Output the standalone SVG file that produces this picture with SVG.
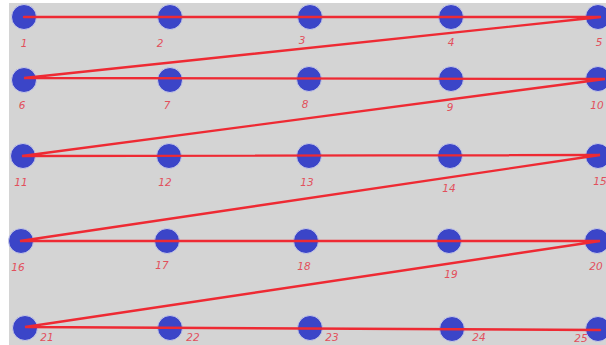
<svg xmlns="http://www.w3.org/2000/svg" width="606" height="345" viewBox="0 0 606 345">
<style>
.n{fill:#3b45c8;stroke:#c9cbe6;stroke-width:1}
.c{stroke:#ee2a33;stroke-width:2.4;fill:none;stroke-linecap:round}
.t{font-family:"DejaVu Sans",sans-serif;font-style:italic;font-size:10.5px;fill:#e2505c;text-anchor:middle}
</style>
<rect x="0" y="0" width="606" height="345" fill="#ffffff"/>
<rect x="9" y="3" width="597" height="342" fill="#d4d4d4"/>
<g id="n1"><circle class="n" cx="24" cy="17" r="12.5"/><text class="t" x="24" y="47">1</text></g>
<g id="n2"><circle class="n" cx="170" cy="17" r="12.5"/><text class="t" x="160" y="47">2</text></g>
<g id="n3"><circle class="n" cx="310" cy="17" r="12.5"/><text class="t" x="302" y="44">3</text></g>
<g id="n4"><circle class="n" cx="451" cy="17" r="12.5"/><text class="t" x="451" y="46">4</text></g>
<g id="n5"><circle class="n" cx="598" cy="17" r="12.5"/><text class="t" x="599" y="46">5</text></g>
<g id="n6"><circle class="n" cx="24" cy="80" r="12.5"/><text class="t" x="22" y="109">6</text></g>
<g id="n7"><circle class="n" cx="170" cy="80" r="12.5"/><text class="t" x="167" y="109">7</text></g>
<g id="n8"><circle class="n" cx="309" cy="79" r="12.5"/><text class="t" x="305" y="108">8</text></g>
<g id="n9"><circle class="n" cx="451" cy="79" r="12.5"/><text class="t" x="450" y="111">9</text></g>
<g id="n10"><circle class="n" cx="598" cy="79" r="12.5"/><text class="t" x="597" y="109">10</text></g>
<g id="n11"><circle class="n" cx="23" cy="156" r="12.5"/><text class="t" x="21" y="186">11</text></g>
<g id="n12"><circle class="n" cx="169" cy="156" r="12.5"/><text class="t" x="165" y="186">12</text></g>
<g id="n13"><circle class="n" cx="309" cy="156" r="12.5"/><text class="t" x="307" y="186">13</text></g>
<g id="n14"><circle class="n" cx="450" cy="156" r="12.5"/><text class="t" x="449" y="192">14</text></g>
<g id="n15"><circle class="n" cx="598" cy="156" r="12.5"/><text class="t" x="600" y="185">15</text></g>
<g id="n16"><circle class="n" cx="21" cy="241" r="12.5"/><text class="t" x="18" y="271">16</text></g>
<g id="n17"><circle class="n" cx="167" cy="241" r="12.5"/><text class="t" x="162" y="269">17</text></g>
<g id="n18"><circle class="n" cx="306" cy="241" r="12.5"/><text class="t" x="304" y="270">18</text></g>
<g id="n19"><circle class="n" cx="449" cy="241" r="12.5"/><text class="t" x="451" y="278">19</text></g>
<g id="n20"><circle class="n" cx="597" cy="241" r="12.5"/><text class="t" x="596" y="270">20</text></g>
<g id="n21"><circle class="n" cx="25" cy="328" r="12.5"/><text class="t" x="47" y="341">21</text></g>
<g id="n22"><circle class="n" cx="170" cy="328" r="12.5"/><text class="t" x="193" y="341">22</text></g>
<g id="n23"><circle class="n" cx="310" cy="328" r="12.5"/><text class="t" x="332" y="341">23</text></g>
<g id="n24"><circle class="n" cx="452" cy="329" r="12.5"/><text class="t" x="479" y="341">24</text></g>
<g id="n25"><circle class="n" cx="598" cy="329" r="12.5"/><text class="t" x="581" y="342">25</text></g>
<g id="connectors">
<polyline class="c" points="24,17 601,17 24,78 605,79 22,156 600,155 20,241 600,241 25,327 600,330"/>
</g>
</svg>
